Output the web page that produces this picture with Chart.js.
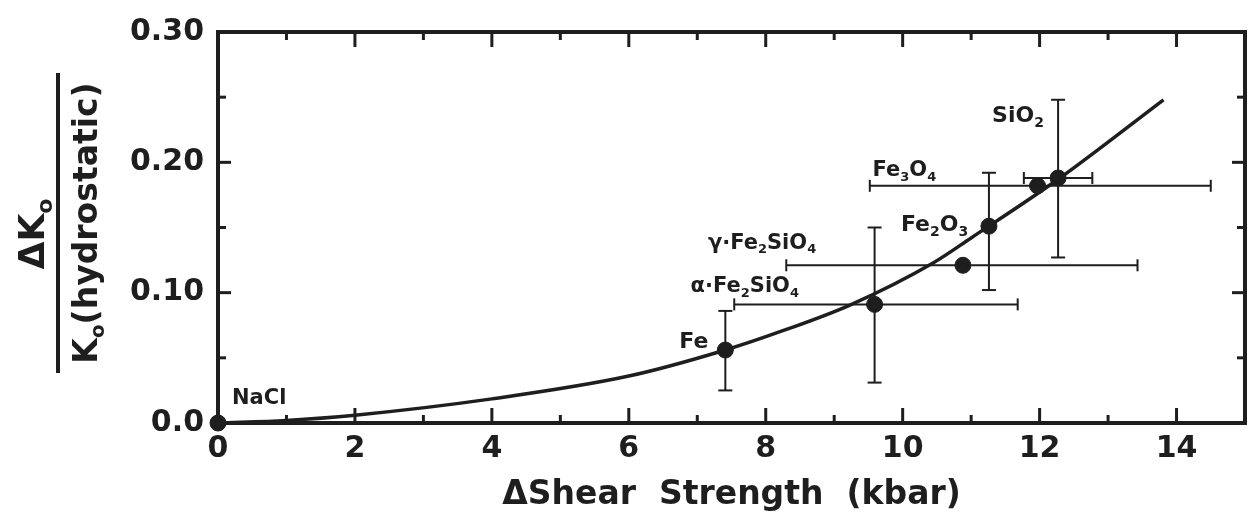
<!DOCTYPE html>
<html lang="en">
<head>
<meta charset="UTF-8">
<title>Delta K0 vs Delta Shear Strength</title>
<script src="https://cdn.jsdelivr.net/npm/chart.js"></script>
<style>
  html, body { margin: 0; padding: 0; background: #fff; }
  #wrap { width: 1254px; height: 527px; }
</style>
</head>
<body>
<div id="wrap"><canvas id="chart"></canvas></div>
<script>
// measured materials
const materials = ['NaCl', 'Fe', 'α·Fe₂SiO₄', 'γ·Fe₂SiO₄', 'Fe₂O₃', 'Fe₃O₄', 'SiO₂'];
const shear = [0, 7.41, 9.59, 10.88, 11.26, 11.97, 12.27];
const dK = [0, 0.056, 0.091, 0.121, 0.151, 0.182, 0.188];
// error bars, null where there is none
const shearLo = [null, null, 7.54, 8.30, null, 9.52, 11.77];
const shearHi = [null, null, 11.68, 13.43, null, 14.50, 12.77];
const dKLo = [null, 0.025, 0.031, null, 0.102, null, 0.127];
const dKHi = [null, 0.086, 0.150, null, 0.192, null, 0.248];

// fitted curve
const curveX = [0, 1, 2, 4, 6, 7.41, 8.26, 9.23, 10.45, 11.0, 12.27, 13.81];
const curveY = [0, 0.002, 0.006, 0.0185, 0.036, 0.056, 0.071, 0.0905, 0.123, 0.142, 0.187, 0.248];

const xTickLabels = ['0', '2', '4', '6', '8', '10', '12', '14'];
const yTickLabels = ['0.0', '0.10', '0.20', '0.30'];

const INK = '#1e1e1e';
const FONT = '"DejaVu Sans", sans-serif';

// label placement relative to each point, in px
const labelPos = [
  {dx: 14, dy: -27, size: 21, align: 'left'},
  {dx: -17, dy: -10, size: 22, align: 'right'},
  {dx: -184, dy: -20, size: 21, align: 'left'},
  {dx: -255, dy: -24, size: 21, align: 'left'},
  {dx: -88, dy: -3, size: 22, align: 'left'},
  {dx: -165, dy: -17, size: 21, align: 'left'},
  {dx: -66, dy: -64, size: 22, align: 'left'}
];

const SUB = {'₀':'0','₁':'1','₂':'2','₃':'3','₄':'4','₅':'5','₆':'6','₇':'7','₈':'8','₉':'9','ₒ':'o'};

function runs(text) {
  const out = [];
  for (const ch of text) {
    const sub = ch in SUB;
    const c = sub ? SUB[ch] : ch;
    const last = out[out.length - 1];
    if (last && last.sub === sub) last.t += c;
    else out.push({t: c, sub: sub});
  }
  return out;
}

function richWidth(ctx, text, size) {
  let w = 0;
  runs(text).forEach(r => {
    ctx.font = 'bold ' + Math.round(r.sub ? size * 0.62 : size) + 'px ' + FONT;
    w += ctx.measureText(r.t).width;
  });
  return w;
}

// draws text with subscripts; y is the vertical middle of the main letters
function drawRich(ctx, text, x, y, size, align) {
  const w = richWidth(ctx, text, size);
  let cx = align === 'right' ? x - w : align === 'center' ? x - w / 2 : x;
  ctx.textBaseline = 'alphabetic';
  ctx.textAlign = 'left';
  const base = y + size * 0.36;
  runs(text).forEach(r => {
    const s = r.sub ? size * 0.62 : size;
    ctx.font = 'bold ' + Math.round(s) + 'px ' + FONT;
    ctx.fillText(r.t, cx, r.sub ? base + size * 0.22 : base);
    cx += ctx.measureText(r.t).width;
  });
}

function seg(ctx, x1, y1, x2, y2) {
  ctx.beginPath();
  ctx.moveTo(x1, y1);
  ctx.lineTo(x2, y2);
  ctx.stroke();
}

const decor = {
  id: 'decor',
  afterDatasetsDraw(chart) {
    const {ctx, chartArea: a, scales: {x, y}} = chart;
    ctx.save();
    ctx.strokeStyle = INK;
    ctx.fillStyle = INK;

    // error bars
    ctx.lineWidth = 2;
    shear.forEach((sx, i) => {
      const px = x.getPixelForValue(sx);
      const py = y.getPixelForValue(dK[i]);
      if (dKLo[i] !== null) {
        const y1 = y.getPixelForValue(dKLo[i]);
        const y2 = y.getPixelForValue(dKHi[i]);
        seg(ctx, px, y1, px, y2);
        seg(ctx, px - 7, y1, px + 7, y1);
        seg(ctx, px - 7, y2, px + 7, y2);
      }
      if (shearLo[i] !== null) {
        const x1 = x.getPixelForValue(shearLo[i]);
        const x2 = x.getPixelForValue(shearHi[i]);
        seg(ctx, x1, py, x2, py);
        seg(ctx, x1, py - 6, x1, py + 6);
        seg(ctx, x2, py - 6, x2, py + 6);
      }
    });

    // point labels
    materials.forEach((m, i) => {
      const p = labelPos[i];
      drawRich(ctx, m, x.getPixelForValue(shear[i]) + p.dx, y.getPixelForValue(dK[i]) + p.dy, p.size, p.align);
    });

    // inward ticks on all four sides
    ctx.lineWidth = 3;
    for (let v = 1; v < 15; v++) {
      const px = x.getPixelForValue(v);
      const len = v % 2 === 0 ? 15 : 8;
      seg(ctx, px, a.bottom, px, a.bottom - len);
      seg(ctx, px, a.top, px, a.top + len);
    }
    for (let k = 1; k < 6; k++) {
      const py = y.getPixelForValue(k * 0.05);
      const len = k % 2 === 0 ? 13 : 8;
      seg(ctx, a.left, py, a.left + len, py);
      seg(ctx, a.right, py, a.right - len, py);
    }

    // frame
    ctx.lineWidth = 4;
    ctx.strokeRect(a.left, a.top, a.right - a.left, a.bottom - a.top);

    // y axis title as a fraction
    ctx.save();
    ctx.translate(0, 223);
    ctx.rotate(-Math.PI / 2);
    // rotated frame: +x is up the page, +y is to the right
    drawRich(ctx, 'ΔKₒ', -11, 31, 36, 'center');
    ctx.lineWidth = 4;
    seg(ctx, -150, 58, 150, 58);
    drawRich(ctx, 'Kₒ(hydrostatic)', 0, 85, 33, 'center');
    ctx.restore();

    ctx.restore();
  }
};

new Chart(document.getElementById('chart'), {
  type: 'scatter',
  data: {
    datasets: [
      {
        type: 'line',
        label: 'fit',
        data: curveX.map((v, i) => ({x: v, y: curveY[i]})),
        borderColor: INK,
        borderWidth: 3.5,
        pointRadius: 0,
        cubicInterpolationMode: 'monotone',
        fill: false
      },
      {
        label: 'materials',
        data: shear.map((v, i) => ({x: v, y: dK[i]})),
        backgroundColor: INK,
        borderColor: INK,
        pointRadius: 8,
        clip: false
      }
    ]
  },
  options: {
    responsive: true,
    maintainAspectRatio: false,
    animation: false,
    events: [],
    layout: {padding: {top: 20, right: 9, left: 0, bottom: 0}},
    plugins: {legend: {display: false}, tooltip: {enabled: false}},
    scales: {
      x: {
        type: 'linear',
        min: 0,
        max: 15,
        afterFit(scale) { scale.height = 104; },
        grid: {display: false, drawTicks: false},
        border: {display: false},
        ticks: {
          stepSize: 1,
          autoSkip: false,
          maxRotation: 0,
          padding: 8,
          color: INK,
          font: {family: FONT, size: 30, weight: 'bold'},
          callback: v => (v % 2 === 0 ? xTickLabels[v / 2] : '')
        },
        title: {
          display: true,
          text: 'ΔShear  Strength  (kbar)',
          color: INK,
          font: {family: FONT, size: 33, weight: 'bold'},
          padding: {top: 0, bottom: 12}
        }
      },
      y: {
        type: 'linear',
        min: 0,
        max: 0.3,
        afterFit(scale) { scale.width = 218; },
        grid: {display: false, drawTicks: false},
        border: {display: false},
        ticks: {
          stepSize: 0.05,
          autoSkip: false,
          padding: 14,
          color: INK,
          font: {family: FONT, size: 30, weight: 'bold'},
          callback: v => {
            const r = Math.round(v * 100);
            return r % 10 === 0 ? yTickLabels[r / 10] : '';
          }
        }
      }
    }
  },
  plugins: [decor]
});
</script>
</body>
</html>
